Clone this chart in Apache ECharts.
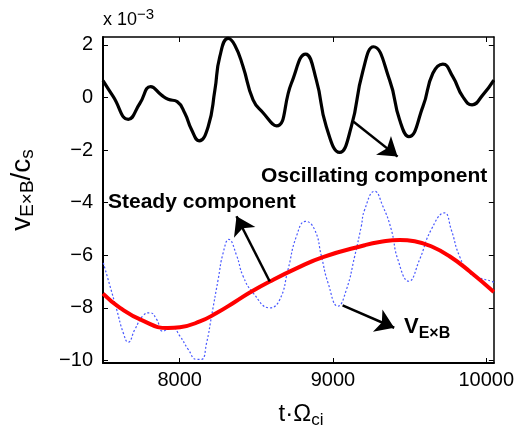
<!DOCTYPE html>
<html>
<head>
<meta charset="utf-8">
<script src="https://cdn.jsdelivr.net/npm/echarts@6/dist/echarts.min.js"></script>
<style>
html, body { margin: 0; padding: 0; background: #fff; }
#chart { width: 517px; height: 442px; }
</style>
</head>
<body>
<div id="chart"></div>
<script>
// tick labels
var xTicks = [8000, 9000, 10000];
var yTicks = [-10, -8, -6, -4, -2, 0, 2];   // x 10^-3

// oscillating component (black)
var oscT = [7500, 7567, 7665, 7741, 7811, 7882, 7925, 7984, 8034, 8078, 8127, 8186, 8230, 8262, 8316, 8360,
            8414, 8479, 8544, 8632, 8729, 8822, 8892, 8957, 9044, 9120, 9194, 9265, 9370, 9435, 9495, 9587,
            9652, 9717, 9782, 9847, 9908, 9977, 10050];
var oscV = [0.64, 0.03, -0.83, -0.22, 0.41, 0.09, -0.07, -0.16, -0.60, -1.23, -1.65, -1.11, 0.28, 1.55, 2.25, 1.99,
            1.17, -0.09, -0.58, -1.08, 0.54, 1.65, 0.66, -1.11, -2.09, -1.11, 0.97, 1.93, 0.66, -0.85, -1.49, -0.35,
            0.92, 1.27, 0.79, 0.03, -0.28, 0.09, 0.66];

// steady component (red)
var steadyT = [7500, 7611, 7763, 7923, 8002, 8132, 8241, 8360, 8458, 8588, 8762, 8935, 9207, 9305, 9436, 9533,
               9641, 9761, 9891, 10050];
var steadyV = [-7.46, -8.00, -8.50, -8.77, -8.74, -8.52, -8.20, -7.78, -7.42, -7.00, -6.50, -6.07, -5.62, -5.50,
               -5.42, -5.47, -5.66, -6.04, -6.61, -7.40];

// total V_ExB (blue dotted)
var totalT = [7502, 7546, 7589, 7632, 7665, 7708, 7763, 7806, 7850, 7889, 7948, 8002, 8056, 8110, 8143, 8176,
              8208, 8251, 8284, 8321, 8371, 8414, 8479, 8588, 8653, 8707, 8762, 8822, 8881, 8925, 8968, 9033,
              9088, 9142, 9185, 9207, 9272, 9326, 9381, 9424, 9495, 9565, 9641, 9728, 9772, 9826, 9891, 9954,
              10036, 10050];
var totalV = [-6.29, -7.18, -8.06, -8.95, -9.31, -8.82, -8.29, -8.19, -8.44, -8.89, -8.72, -9.08, -9.58, -9.96, -9.96, -9.33,
              -8.32, -6.93, -5.91, -5.40, -6.00, -6.80, -7.43, -8.00, -7.69, -6.55, -5.28, -4.71, -5.03, -6.04, -7.05, -7.94,
              -7.31, -6.04, -4.90, -4.27, -3.57, -4.14, -5.03, -6.17, -6.99, -6.17, -5.03, -4.39, -5.03, -6.04, -6.67, -6.86,
              -6.99, -7.04];

// annotation arrows: [fromT, fromV, toT, toV]
var arrows = [
  [9135, -0.92, 9422, -2.25],
  [8588, -7.00, 8371, -4.52],
  [9063, -7.91, 9400, -8.76]
];

var FONT = 'Liberation Sans, Arial, Helvetica, sans-serif';

function pairs(t, v) {
  return t.map(function (x, i) { return [x, v[i]]; });
}
function minusFmt(v) {
  return v < 0 ? '\u2212' + (-v) : String(v);
}

function xAx(pos, showLabel, w) {
  return {
    type: 'value', min: 7500, max: 10050, position: pos,
    axisLine: { show: true, onZero: false, lineStyle: { color: '#000', width: w } },
    axisTick: { show: true, inside: true, length: 5, customValues: xTicks, lineStyle: { color: '#000', width: 1 } },
    axisLabel: { show: showLabel, customValues: xTicks, fontSize: 20, color: '#000', fontFamily: FONT, margin: 7,
                 formatter: function (v) { return String(v); } },
    splitLine: { show: false }
  };
}
function yAx(pos, showLabel, w) {
  return {
    type: 'value', min: -10.1, max: 2.3, position: pos,
    axisLine: { show: true, onZero: false, lineStyle: { color: '#000', width: w } },
    axisTick: { show: true, inside: true, length: 5, customValues: yTicks, lineStyle: { color: '#000', width: 1 } },
    axisLabel: { show: showLabel, customValues: yTicks, fontSize: 20, color: '#000', fontFamily: FONT, margin: 10,
                 formatter: minusFmt },
    splitLine: { show: false }
  };
}

var option = {
  animation: false,
  backgroundColor: '#fff',
  grid: { left: 103, right: 22, top: 37, bottom: 79 },
  xAxis: [xAx('bottom', true, 2), xAx('top', false, 1.5)],
  yAxis: [yAx('left', true, 2), yAx('right', false, 1.5)],
  series: [
    {
      type: 'line', name: 'total', data: pairs(totalT, totalV), symbol: 'none', smooth: 0.5, z: 2,
      lineStyle: { color: '#4858ff', width: 1.2, type: [2, 2] }
    },
    {
      type: 'line', name: 'steady', data: pairs(steadyT, steadyV), symbol: 'none', smooth: 0.5, z: 3,
      lineStyle: { color: '#ff0000', width: 4 }
    },
    {
      type: 'line', name: 'oscillating', data: pairs(oscT, oscV), symbol: 'none', smooth: 0.5, z: 4,
      lineStyle: { color: '#000', width: 3.2 },
      markLine: {
        silent: true, animation: false,
        symbol: ['none', 'arrow'], symbolSize: 18,
        label: { show: false },
        lineStyle: { color: '#000', width: 2.5, type: 'solid' },
        emphasis: { disabled: true },
        data: arrows.map(function (a) {
          return [{ coord: [a[0], a[1]] }, { coord: [a[2], a[3]] }];
        })
      }
    }
  ],
  graphic: [
    { // axis multiplier
      type: 'text', left: 103, top: 7,
      style: {
        text: '{a|x 10}{sup|\u22123}', fill: '#000',
        rich: {
          a: { fontSize: 18, fontFamily: FONT, lineHeight: 26 },
          sup: { fontSize: 15, fontFamily: FONT, lineHeight: 4, verticalAlign: 'top' }
        }
      }
    },
    { // y label
      type: 'text', x: 22, y: 190, rotation: Math.PI / 2,
      style: {
        text: '{m|v}{s1|E\u00d7B}{m|/c}{s2|s}', fill: '#000', align: 'center', verticalAlign: 'middle',
        rich: {
          m: { fontSize: 28, fontFamily: FONT, lineHeight: 30 },
          s1: { fontSize: 19, fontFamily: FONT, lineHeight: 1, verticalAlign: 'bottom' },
          s2: { fontSize: 19, fontFamily: FONT, lineHeight: 14, verticalAlign: 'bottom' }
        }
      }
    },
    { // x label
      type: 'text', x: 301, y: 414,
      style: {
        text: '{m|t\u00b7\u03a9}{s|ci}', fill: '#000', align: 'center', verticalAlign: 'middle',
        rich: {
          m: { fontSize: 24, fontFamily: FONT, lineHeight: 30 },
          s: { fontSize: 17, fontFamily: FONT, lineHeight: 7, verticalAlign: 'bottom' }
        }
      }
    },
    {
      type: 'text', left: 261, top: 166,
      style: { text: 'Oscillating component', fill: '#000', font: 'bold 21px ' + FONT }
    },
    {
      type: 'text', left: 108, top: 192,
      style: { text: 'Steady component', fill: '#000', font: 'bold 21px ' + FONT }
    },
    {
      type: 'text', left: 404, top: 316,
      style: {
        text: '{v|V}{s|E\u00d7B}', fill: '#000',
        rich: {
          v: { fontSize: 22, fontWeight: 'bold', fontFamily: FONT, lineHeight: 30 },
          s: { fontSize: 16, fontWeight: 'bold', fontFamily: FONT, lineHeight: 1, verticalAlign: 'bottom' }
        }
      }
    }
  ]
};

var myChart = echarts.init(document.getElementById('chart'));
myChart.setOption(option, true);
</script>
</body>
</html>
